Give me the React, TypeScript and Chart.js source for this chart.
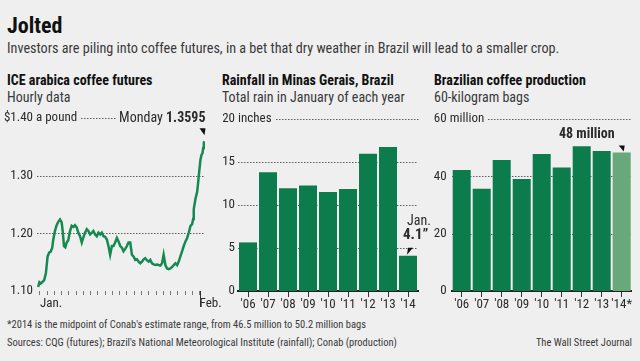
import React, { useEffect, useRef } from "react";
import { Chart, registerables } from "chart.js";

Chart.register(...registerables);

const FONT = '"Roboto Condensed", "Liberation Sans", sans-serif';
const TEXT = "#2b2b2b";
const GRID = "#5c5c5c";
const GREEN = "#0d7c4d";
const GREEN_LIGHT = "#68a87a";
const LINE_GREEN = "#158a50";

// ---------- ICE arabica coffee futures (hourly), x = trading day of January ----------
const futuresDays = [
  -0.24, -0.07, 0.1, 0.37, 0.59, 0.83, 1.06, 1.29, 1.48, 1.7, 1.84, 2.07, 2.31, 2.53, 2.77, 3.0,
  3.14, 3.32, 3.5, 3.69, 3.91, 4.15, 4.38, 4.61, 4.84, 5.08, 5.3, 5.53, 5.77, 5.99, 6.22, 6.46,
  6.68, 6.92, 7.15, 7.37, 7.61, 7.84, 8.06, 8.3, 8.53, 8.76, 8.99, 9.23, 9.45, 9.68, 9.92, 10.14,
  10.37, 10.61, 10.83, 11.07, 11.3, 11.52, 11.76, 11.99, 12.21, 12.45, 12.68, 12.9, 13.14, 13.37,
  13.6, 13.83, 14.07, 14.29, 14.52, 14.76, 14.98, 15.21, 15.45, 15.67, 15.91, 16.14, 16.36, 16.6,
  16.83, 17.05, 17.29, 17.52, 17.75, 17.98, 18.22, 18.44, 18.67, 18.91, 19.13, 19.36, 19.6, 19.82,
  20.06, 20.29, 20.51, 20.75, 20.98, 21.12, 21.2, 21.44, 21.67, 21.81, 21.95, 22.13, 22.27, 22.41,
  22.5, 22.59, 22.68,
];
const futuresPrices = [
  1.107, 1.115, 1.113, 1.116, 1.119, 1.131, 1.16, 1.167, 1.168, 1.175, 1.189, 1.204, 1.214, 1.22,
  1.224, 1.219, 1.204, 1.178, 1.176, 1.184, 1.188, 1.204, 1.213, 1.211, 1.214, 1.21, 1.201, 1.195,
  1.184, 1.193, 1.201, 1.207, 1.204, 1.198, 1.201, 1.204, 1.198, 1.195, 1.201, 1.198, 1.201, 1.195,
  1.194, 1.189, 1.178, 1.163, 1.178, 1.178, 1.184, 1.192, 1.186, 1.178, 1.175, 1.169, 1.173, 1.178,
  1.184, 1.184, 1.163, 1.16, 1.154, 1.155, 1.151, 1.148, 1.151, 1.155, 1.157, 1.153, 1.151, 1.154,
  1.148, 1.146, 1.145, 1.146, 1.145, 1.144, 1.148, 1.163, 1.145, 1.139, 1.138, 1.139, 1.142, 1.145,
  1.148, 1.145, 1.151, 1.16, 1.169, 1.178, 1.186, 1.192, 1.201, 1.213, 1.216, 1.225, 1.242, 1.26,
  1.272, 1.289, 1.307, 1.328, 1.336, 1.339, 1.348, 1.357, 1.3595,
];
const futuresTickDays = [0, 1, 2, 3, 4, 5, 6, 7, 8, 9, 10, 11, 12, 13, 14, 15, 16, 17, 18, 19, 20, 21, 22];
const monthTickDays = [0, 22];
const monthTickLabels = ["Jan.", "Feb."];
const priceTicks = [1.1, 1.2, 1.3, 1.4];
const priceTickLabels = ["1.10", "1.20", "1.30", "$1.40"];

// ---------- Rainfall in Minas Gerais ----------
const years = ["'06", "'07", "'08", "'09", "'10", "'11", "'12", "'13", "'14"];
const rainfall = [5.65, 13.8, 11.96, 12.27, 11.5, 11.85, 15.97, 16.75, 4.1];
const rainTicks = [0, 5, 10, 15, 20];

// ---------- Brazilian coffee production ----------
const productionYears = ["'06", "'07", "'08", "'09", "'10", "'11", "'12", "'13", "'14*"];
const production = [42.2, 35.7, 45.7, 39.1, 47.8, 43.1, 50.5, 48.8, 48.35];
const productionTicks = [0, 20, 40, 60];

Chart.defaults.font.family = FONT;
Chart.defaults.color = TEXT;

const W = 640;
const H = 361;
const TICK_FONT = 13;

function dotted(ctx: CanvasRenderingContext2D, x1: number, x2: number, y: number) {
  ctx.save();
  ctx.fillStyle = GRID;
  const yy = Math.round(y);
  for (let x = Math.round(x1); x < x2; x += 3) {
    ctx.fillRect(x, yy, 1.5, 1);
  }
  ctx.restore();
}

// Draws the inner dotted grid lines plus the unit text and dotted line of the top tick.
function gridAndTopLabel(ticks: number[], suffix: string, pad: number, stopAt?: (chart: any) => number) {
  return {
    id: "gridAndTopLabel",
    beforeDatasetsDraw(chart: any) {
      const ctx = chart.ctx as CanvasRenderingContext2D;
      const y = chart.scales.y;
      const left = chart.chartArea.left;
      const right = chart.chartArea.right;
      for (let i = 1; i < ticks.length - 1; i++) {
        dotted(ctx, left, right, y.getPixelForValue(ticks[i]));
      }
      const top = y.getPixelForValue(ticks[ticks.length - 1]);
      const x0 = left - pad;
      ctx.save();
      ctx.font = `${TICK_FONT}px ${FONT}`;
      ctx.fillStyle = TEXT;
      ctx.textBaseline = "middle";
      ctx.textAlign = "left";
      ctx.fillText(suffix, x0, top);
      const end = x0 + ctx.measureText(suffix).width + 4;
      ctx.restore();
      dotted(ctx, end, stopAt ? stopAt(chart) : right, top);
    },
  };
}

function triangle(ctx: CanvasRenderingContext2D, pts: number[][]) {
  ctx.save();
  ctx.fillStyle = "#111";
  ctx.beginPath();
  ctx.moveTo(pts[0][0], pts[0][1]);
  for (let i = 1; i < pts.length; i++) ctx.lineTo(pts[i][0], pts[i][1]);
  ctx.closePath();
  ctx.fill();
  ctx.restore();
}

function yAxis(ticks: number[], labels: string[], width: number, pad: number) {
  const min = ticks[0];
  const max = ticks[ticks.length - 1];
  return {
    type: "linear",
    min,
    max,
    afterFit: (s: any) => {
      s.width = width;
    },
    afterBuildTicks: (s: any) => {
      s.ticks = ticks.map((v) => ({ value: v }));
    },
    border: { display: false },
    grid: { display: false, drawTicks: false },
    ticks: {
      padding: pad,
      font: { size: TICK_FONT },
      color: TEXT,
      callback: (v: number) => {
        const i = ticks.indexOf(v);
        return i >= 0 ? labels[i] : "";
      },
    },
  };
}

function barXAxis() {
  return {
    type: "category",
    afterFit: (s: any) => {
      s.height = 30;
    },
    border: { display: true, color: "#222", width: 2 },
    grid: {
      offset: false,
      drawOnChartArea: false,
      drawTicks: true,
      tickLength: 6,
      tickColor: "#333",
      tickWidth: 1,
    },
    ticks: { padding: 0, font: { size: TICK_FONT }, color: TEXT, maxRotation: 0, autoSkip: false },
  };
}

function useChart(factory: () => any) {
  const ref = useRef<HTMLCanvasElement | null>(null);
  useEffect(() => {
    if (!ref.current) return;
    const chart = new Chart(ref.current, factory());
    return () => chart.destroy();
  }, []);
  return ref;
}

const canvasStyle: React.CSSProperties = {
  position: "absolute",
  left: 0,
  top: 0,
  width: W,
  height: H,
  pointerEvents: "none",
};

function FuturesChart() {
  const ref = useChart(() => {
    const annotation = {
      id: "futuresAnnotation",
      afterDatasetsDraw(chart: any) {
        const ctx = chart.ctx as CanvasRenderingContext2D;
        const meta = chart.getDatasetMeta(0);
        const last = meta.data[meta.data.length - 1];
        const px = last.x;
        const py = last.y;
        const ty = chart.scales.y.getPixelForValue(priceTicks[priceTicks.length - 1]);
        ctx.save();
        ctx.textBaseline = "middle";
        ctx.textAlign = "right";
        ctx.fillStyle = TEXT;
        ctx.font = `bold 14px ${FONT}`;
        const val = String(futuresPrices[futuresPrices.length - 1]);
        const vw = ctx.measureText(val).width;
        ctx.fillText(val, px + 1, ty);
        ctx.font = `14px ${FONT}`;
        ctx.fillText("Monday ", px + 1 - vw, ty);
        ctx.restore();
        triangle(ctx, [
          [px - 5, py - 13],
          [px + 1, py - 13],
          [px, py - 6],
        ]);
        // February divider
        const fx = Math.round(chart.scales.x.getPixelForValue(monthTickDays[1])) + 0.5;
        const b = chart.chartArea.bottom;
        ctx.save();
        ctx.strokeStyle = "#333";
        ctx.lineWidth = 1;
        ctx.beginPath();
        ctx.moveTo(fx, b);
        ctx.lineTo(fx, b + 16);
        ctx.stroke();
        ctx.restore();
      },
    };
    const stop = (chart: any) => {
      const ctx = chart.ctx as CanvasRenderingContext2D;
      const meta = chart.getDatasetMeta(0);
      const px = meta.data[meta.data.length - 1].x;
      ctx.save();
      ctx.font = `bold 14px ${FONT}`;
      const a = ctx.measureText(String(futuresPrices[futuresPrices.length - 1])).width;
      ctx.font = `14px ${FONT}`;
      const b = ctx.measureText("Monday ").width;
      ctx.restore();
      return px + 1 - a - b - 5;
    };
    return {
      type: "line",
      data: {
        datasets: [
          {
            data: futuresDays.map((d, i) => ({ x: d, y: futuresPrices[i] })),
            borderColor: LINE_GREEN,
            borderWidth: 2.5,
            pointRadius: 0,
            tension: 0,
            fill: false,
          },
        ],
      },
      options: {
        responsive: false,
        animation: false,
        events: [],
        layout: { padding: { left: 0, top: 118, right: W - 205, bottom: H - 291 - 30 } },
        plugins: { legend: { display: false }, tooltip: { enabled: false } },
        scales: {
          x: {
            type: "linear",
            min: -0.4,
            max: 22.75,
            afterFit: (s: any) => {
              s.height = 30;
            },
            afterBuildTicks: (s: any) => {
              s.ticks = futuresTickDays.map((v) => ({ value: v }));
            },
            border: { display: false },
            grid: {
              drawOnChartArea: false,
              drawTicks: true,
              tickLength: 4,
              tickColor: "#777",
              tickWidth: 1,
            },
            ticks: {
              autoSkip: false,
              maxRotation: 0,
              align: "start",
              padding: 1,
              font: { size: TICK_FONT },
              color: TEXT,
              callback: (v: number) => {
                const i = monthTickDays.indexOf(v);
                return i >= 0 ? monthTickLabels[i] : "";
              },
            },
          },
          y: yAxis(priceTicks, priceTickLabels, 37, 4),
        },
      },
      plugins: [gridAndTopLabel(priceTicks, " a pound", 4, stop), annotation],
    };
  });
  return <canvas ref={ref} width={W} height={H} style={canvasStyle} />;
}

function RainChart() {
  const ref = useChart(() => {
    const annotation = {
      id: "rainAnnotation",
      afterDatasetsDraw(chart: any) {
        const ctx = chart.ctx as CanvasRenderingContext2D;
        const meta = chart.getDatasetMeta(0);
        const bar = meta.data[meta.data.length - 1];
        const cx = bar.x;
        const ty = bar.y;
        ctx.save();
        ctx.fillStyle = TEXT;
        ctx.textBaseline = "middle";
        ctx.textAlign = "left";
        ctx.font = `14px ${FONT}`;
        ctx.fillText("Jan.", cx - 1, ty - 34);
        ctx.font = `bold 15px ${FONT}`;
        ctx.fillText(`${rainfall[rainfall.length - 1]}\u201D`, cx - 5, ty - 20);
        ctx.restore();
        triangle(ctx, [
          [cx + 0, ty - 8],
          [cx + 5, ty - 8],
          [cx - 1, ty - 1],
        ]);
      },
    };
    return {
      type: "bar",
      data: {
        labels: years,
        datasets: [
          {
            data: rainfall,
            backgroundColor: GREEN,
            borderWidth: 0,
            barPercentage: 0.9,
            categoryPercentage: 1,
          },
        ],
      },
      options: {
        responsive: false,
        animation: false,
        events: [],
        layout: { padding: { left: 208, top: 119, right: W - 418, bottom: H - 291 - 30 } },
        plugins: { legend: { display: false }, tooltip: { enabled: false } },
        scales: {
          x: barXAxis(),
          y: yAxis(rainTicks, rainTicks.map(String), 30, 3),
        },
      },
      plugins: [gridAndTopLabel(rainTicks, " inches", 3), annotation],
    };
  });
  return <canvas ref={ref} width={W} height={H} style={canvasStyle} />;
}

function ProductionChart() {
  const ref = useChart(() => {
    const annotation = {
      id: "prodAnnotation",
      afterDatasetsDraw(chart: any) {
        const ctx = chart.ctx as CanvasRenderingContext2D;
        const meta = chart.getDatasetMeta(0);
        const bar = meta.data[meta.data.length - 1];
        const cx = bar.x;
        const ty = bar.y;
        ctx.save();
        ctx.fillStyle = TEXT;
        ctx.textBaseline = "middle";
        ctx.textAlign = "right";
        ctx.font = `bold 14px ${FONT}`;
        ctx.fillText("48 million", cx - 7, ty - 18);
        ctx.restore();
        triangle(ctx, [
          [cx - 3, ty - 7],
          [cx + 3, ty - 7],
          [cx + 2, ty - 1],
        ]);
      },
    };
    return {
      type: "bar",
      data: {
        labels: productionYears,
        datasets: [
          {
            data: production,
            backgroundColor: production.map((_, i) => (i === production.length - 1 ? GREEN_LIGHT : GREEN)),
            borderWidth: 0,
            barPercentage: 0.9,
            categoryPercentage: 1,
          },
        ],
      },
      options: {
        responsive: false,
        animation: false,
        events: [],
        layout: { padding: { left: 421.7, top: 119, right: W - 631.7, bottom: H - 291 - 30 } },
        plugins: { legend: { display: false }, tooltip: { enabled: false } },
        scales: {
          x: barXAxis(),
          y: yAxis(productionTicks, productionTicks.map(String), 30, 5),
        },
      },
      plugins: [gridAndTopLabel(productionTicks, " million", 5), annotation],
    };
  });
  return <canvas ref={ref} width={W} height={H} style={canvasStyle} />;
}

const txt = (
  left: number,
  top: number,
  size: number,
  extra: React.CSSProperties = {}
): React.CSSProperties => ({
  position: "absolute",
  left,
  top,
  fontSize: size,
  lineHeight: `${size + 2}px`,
  whiteSpace: "nowrap",
  color: TEXT,
  ...extra,
});

export default function App() {
  return (
    <div
      style={{
        position: "fixed",
        left: 0,
        top: 0,
        width: W,
        height: H,
        background: "#efefef",
        overflow: "hidden",
        fontFamily: FONT,
      }}
    >
      <div style={txt(7, 14, 22, { fontWeight: "bold", color: "#111" })}>Jolted</div>
      <div style={txt(7, 40, 14.2, { color: "#3a3a3a" })}>
        Investors are piling into coffee futures, in a bet that dry weather in Brazil will lead to a smaller crop.
      </div>
      <div style={txt(7, 72, 14, { fontWeight: "bold", color: "#111" })}>ICE arabica coffee futures</div>
      <div style={txt(7, 89, 14, { color: "#3a3a3a" })}>Hourly data</div>
      <div style={txt(222, 72, 14, { fontWeight: "bold", color: "#111" })}>Rainfall in Minas Gerais, Brazil</div>
      <div style={txt(222, 89, 14, { color: "#3a3a3a" })}>Total rain in January of each year</div>
      <div style={txt(434, 72, 14, { fontWeight: "bold", color: "#111" })}>Brazilian coffee production</div>
      <div style={txt(434, 89, 14, { color: "#3a3a3a" })}>60-kilogram bags</div>
      <div style={txt(7, 319, 10.5, { color: "#3a3a3a" })}>
        *2014 is the midpoint of Conab's estimate range, from 46.5 million to 50.2 million bags
      </div>
      <div style={txt(7, 337, 10.5, { color: "#3a3a3a" })}>
        Sources: CQG (futures); Brazil's National Meteorological Institute (rainfall); Conab (production)
      </div>
      <div style={txt(0, 337, 10.5, { color: "#3a3a3a", left: "auto", right: 8 })}>The Wall Street Journal</div>
      <FuturesChart />
      <RainChart />
      <ProductionChart />
    </div>
  );
}
